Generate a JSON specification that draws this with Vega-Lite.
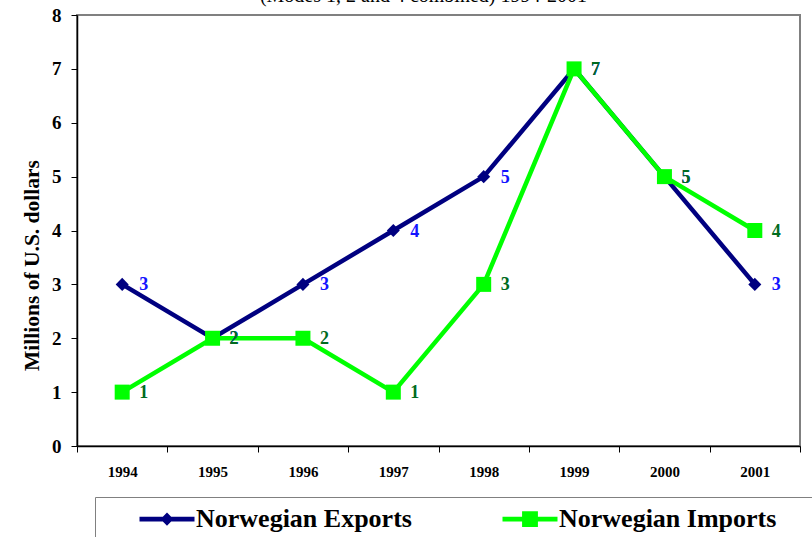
{
  "$schema": "https://vega.github.io/schema/vega-lite/v6.json",
  "autosize": "none",
  "width": 723,
  "height": 431,
  "padding": {"left": 77, "top": 15, "right": 12, "bottom": 91},
  "background": "white",
  "title": {
    "text": "(Modes 1, 2 and 4 combined) 1994-2001",
    "font": "Times New Roman",
    "fontSize": 20,
    "fontWeight": "normal",
    "color": "black",
    "anchor": "middle",
    "frame": "group",
    "baseline": "alphabetic",
    "offset": -16,
    "dx": -15
  },
  "data": {
    "values": [
      {"year": "1994", "series": "Norwegian Exports", "value": 3},
      {"year": "1995", "series": "Norwegian Exports", "value": 2},
      {"year": "1996", "series": "Norwegian Exports", "value": 3},
      {"year": "1997", "series": "Norwegian Exports", "value": 4},
      {"year": "1998", "series": "Norwegian Exports", "value": 5},
      {"year": "1999", "series": "Norwegian Exports", "value": 7},
      {"year": "2000", "series": "Norwegian Exports", "value": 5},
      {"year": "2001", "series": "Norwegian Exports", "value": 3},
      {"year": "1994", "series": "Norwegian Imports", "value": 1},
      {"year": "1995", "series": "Norwegian Imports", "value": 2},
      {"year": "1996", "series": "Norwegian Imports", "value": 2},
      {"year": "1997", "series": "Norwegian Imports", "value": 1},
      {"year": "1998", "series": "Norwegian Imports", "value": 3},
      {"year": "1999", "series": "Norwegian Imports", "value": 7},
      {"year": "2000", "series": "Norwegian Imports", "value": 5},
      {"year": "2001", "series": "Norwegian Imports", "value": 4}
    ]
  },
  "encoding": {
    "x": {
      "field": "year",
      "type": "ordinal",
      "scale": {"paddingInner": 0, "paddingOuter": 0},
      "axis": {
        "title": null,
        "labelAngle": 0,
        "labelFont": "Times New Roman",
        "labelFontWeight": "bold",
        "labelFontSize": 15,
        "labelColor": "black",
        "labelPadding": 12,
        "tickBand": "extent",
        "tickSize": 6,
        "tickColor": "black",
        "tickWidth": 1,
        "domainColor": "black",
        "domainWidth": 1.5
      }
    },
    "y": {
      "field": "value",
      "type": "quantitative",
      "scale": {"domain": [0, 8], "nice": false},
      "axis": {
        "title": "Millions of U.S. dollars",
        "titleFont": "Times New Roman",
        "titleFontWeight": "bold",
        "titleFontSize": 21.5,
        "titleColor": "black",
        "titlePadding": 8,
        "titleY": 250,
        "values": [0, 1, 2, 3, 4, 5, 6, 7, 8],
        "grid": false,
        "labelFont": "Times New Roman",
        "labelFontWeight": "bold",
        "labelFontSize": 19,
        "labelColor": "black",
        "labelPadding": 10,
        "tickSize": 6,
        "tickColor": "black",
        "tickWidth": 1,
        "domainColor": "black",
        "domainWidth": 1.5
      }
    }
  },
  "layer": [
    {
      "mark": {"type": "line", "strokeWidth": 4.5},
      "encoding": {
        "color": {
          "field": "series",
          "type": "nominal",
          "scale": {"domain": ["Norwegian Exports", "Norwegian Imports"], "range": ["#000080", "#00FF00"]},
          "legend": {
            "title": null,
            "orient": "none",
            "legendX": 18,
            "legendY": 482,
            "direction": "horizontal",
            "columns": 2,
            "columnPadding": 46,
            "padding": 0,
            "strokeColor": "#808080",
            "fillColor": "white",
            "symbolSize": 1936,
            "symbolOffset": 50,
            "labelFont": "Times New Roman",
            "labelFontWeight": "bold",
            "labelFontSize": 26,
            "labelColor": "black",
            "labelOffset": 7,
            "labelLimit": 500,
            "encode": {
              "symbols": {
                "update": {
                  "shape": {"signal": "datum.value === 'Norwegian Exports' ? 'M-1.25,-0.11L-0.19,-0.11L0,-0.3L0.19,-0.11L1.25,-0.11L1.25,0.11L0.19,0.11L0,0.3L-0.19,0.11L-1.25,0.11ZM0,1.9L0,1.9' : 'M-1.25,-0.11L-0.36,-0.11L-0.36,-0.36L0.36,-0.36L0.36,-0.11L1.25,-0.11L1.25,0.11L0.36,0.11L0.36,0.36L-0.36,0.36L-0.36,0.11L-1.25,0.11ZM0,1.9L0,1.9M13.6,0L13.6,0'"},
                  "fill": {"signal": "datum.value === 'Norwegian Exports' ? '#000080' : '#00FF00'"},
                  "strokeWidth": {"value": 0},
                  "fillOpacity": {"value": 1}
                }
              }
            }
          }
        }
      }
    },
    {
      "transform": [{"filter": "datum.series === 'Norwegian Exports'"}],
      "mark": {"type": "point", "shape": "diamond", "filled": true, "color": "#000080", "size": 170, "opacity": 1}
    },
    {
      "transform": [{"filter": "datum.series === 'Norwegian Imports'"}],
      "mark": {"type": "point", "shape": "square", "filled": true, "color": "#00FF00", "size": 225, "opacity": 1}
    },
    {
      "transform": [{"filter": "datum.series === 'Norwegian Exports'"}],
      "mark": {"type": "text", "align": "left", "baseline": "middle", "dx": 17, "dy": 1, "font": "Times New Roman", "fontWeight": "bold", "fontSize": 18, "color": "#1414FF"},
      "encoding": {"text": {"field": "value", "type": "quantitative"}}
    },
    {
      "transform": [{"filter": "datum.series === 'Norwegian Imports'"}],
      "mark": {"type": "text", "align": "left", "baseline": "middle", "dx": 17, "dy": 1, "font": "Times New Roman", "fontWeight": "bold", "fontSize": 18, "color": "#006B1E"},
      "encoding": {"text": {"field": "value", "type": "quantitative"}}
    }
  ],
  "config": {
    "view": {"stroke": "#808080", "strokeWidth": 2}
  }
}
